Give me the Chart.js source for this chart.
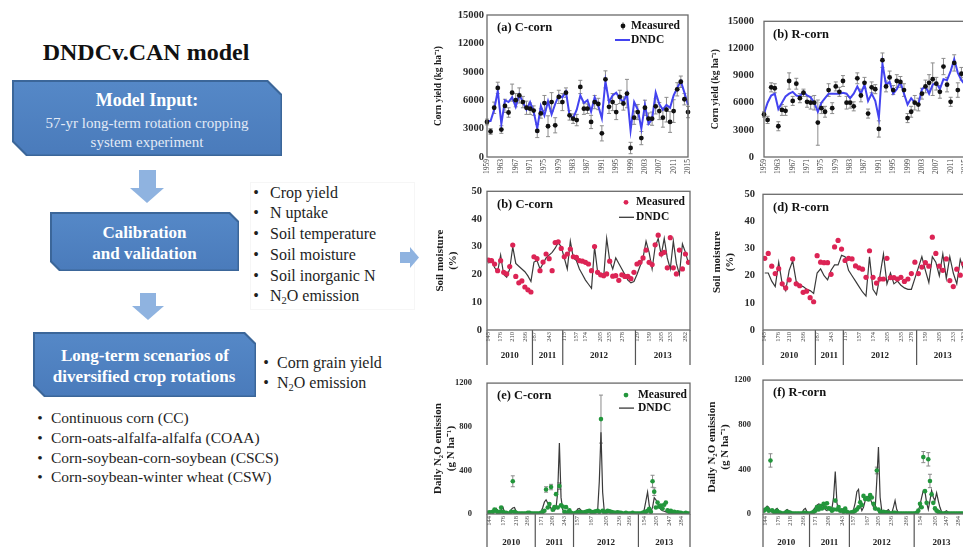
<!DOCTYPE html>
<html><head><meta charset="utf-8">
<script src="https://cdn.jsdelivr.net/npm/chart.js@4.4.1/dist/chart.umd.min.js"></script>
<style>
html,body{margin:0;padding:0;background:#fff;}
body{width:963px;height:547px;overflow:hidden;position:relative;font-family:'Liberation Serif','Times New Roman',serif;color:#1a1a1a;}
.abs{position:absolute;white-space:nowrap;line-height:1;font-family:'Liberation Serif','Times New Roman',serif;}
.c{transform:translate(-50%,-50%);}
.l{transform:translateY(-50%);}
.bx{position:absolute;background:#3b6699;clip-path:polygon(0 0,calc(100% - var(--k)) 0,100% var(--k),100% 100%,var(--k) 100%,0 calc(100% - var(--k)));}
.bx>div{position:absolute;left:1.5px;top:1.5px;right:1.5px;bottom:1.5px;background:linear-gradient(#5588c7,#4a7bbb);clip-path:polygon(0 0,calc(100% - var(--k)) 0,100% var(--k),100% 100%,var(--k) 100%,0 calc(100% - var(--k)));}
.bw{color:#fff;font-weight:bold;font-size:17px;}
.sub{color:#e2eaf6;font-size:15px;}
.it{font-size:16px;color:#1e1e1e;}
.it2{font-size:15.5px;color:#1e1e1e;}
.arr{position:absolute;background:#8fb3e0;}
canvas{position:absolute;}
sub{font-size:0.65em;vertical-align:-0.25em;line-height:0;}
</style></head>
<body>
<!-- flow chart -->
<div class="abs c" style="left:146px;top:52px;font-size:24px;font-weight:bold;color:#111">DNDCv.CAN model</div>

<div class="bx" style="left:12px;top:80px;width:270px;height:76px;--k:14px"><div></div></div>
<div class="abs c bw" style="left:147px;top:100px;font-size:18px">Model Input:</div>
<div class="abs c sub" style="left:147px;top:123px">57-yr long-term rotation cropping</div>
<div class="abs c sub" style="left:147px;top:142px">system experiment</div>

<div class="arr" style="left:139px;top:170px;width:17px;height:19px"></div>
<div class="arr" style="left:130px;top:188px;width:34px;height:15px;clip-path:polygon(0 0,100% 0,50% 100%)"></div>

<div class="abs" style="left:250px;top:182px;width:163px;height:126px;border:1px solid #f6f6f6"></div>
<div class="bx" style="left:50px;top:212px;width:189px;height:59px;--k:9px"><div></div></div>
<div class="abs c bw" style="left:144.5px;top:232px">Calibration</div>
<div class="abs c bw" style="left:144.5px;top:253px">and validation</div>

<div class="abs c it" style="left:256px;top:193px">•</div><div class="abs l it" style="left:270px;top:193px">Crop yield</div>
<div class="abs c it" style="left:256px;top:213px">•</div><div class="abs l it" style="left:270px;top:213px">N uptake</div>
<div class="abs c it" style="left:256px;top:234px">•</div><div class="abs l it" style="left:270px;top:234px">Soil temperature</div>
<div class="abs c it" style="left:256px;top:255px">•</div><div class="abs l it" style="left:270px;top:255px">Soil moisture</div>
<div class="abs c it" style="left:256px;top:276px">•</div><div class="abs l it" style="left:270px;top:276px">Soil inorganic N</div>
<div class="abs c it" style="left:256px;top:296px">•</div><div class="abs l it" style="left:270px;top:296px">N<sub>2</sub>O emission</div>

<div class="arr" style="left:400px;top:252px;width:11px;height:11px"></div>
<div class="arr" style="left:410px;top:247px;width:9px;height:21px;clip-path:polygon(0 0,100% 50%,0 100%)"></div>

<div class="arr" style="left:140px;top:293px;width:16px;height:14px"></div>
<div class="arr" style="left:132px;top:306px;width:32px;height:14px;clip-path:polygon(0 0,100% 0,50% 100%)"></div>

<div class="bx" style="left:33px;top:332px;width:223px;height:65px;--k:11px"><div></div></div>
<div class="abs c bw" style="left:145px;top:355px">Long-term scenarios of</div>
<div class="abs c bw" style="left:144px;top:376px">diversified crop rotations</div>

<div class="abs c it" style="left:266px;top:363px">•</div><div class="abs l it" style="left:277px;top:363px">Corn grain yield</div>
<div class="abs c it" style="left:266px;top:383px">•</div><div class="abs l it" style="left:277px;top:383px">N<sub>2</sub>O emission</div>

<div class="abs c it2" style="left:40px;top:418px">•</div><div class="abs l it2" style="left:51px;top:418px">Continuous corn (CC)</div>
<div class="abs c it2" style="left:40px;top:438px">•</div><div class="abs l it2" style="left:51px;top:438px">Corn-oats-alfalfa-alfalfa (COAA)</div>
<div class="abs c it2" style="left:40px;top:458px">•</div><div class="abs l it2" style="left:51px;top:458px">Corn-soybean-corn-soybean (CSCS)</div>
<div class="abs c it2" style="left:40px;top:477px">•</div><div class="abs l it2" style="left:51px;top:477px">Corn-soybean-winter wheat (CSW)</div>

<script>
// ---------------- DATA ----------------
// Corn yield (kg/ha), 1959-2015
const yieldYears = Array.from({length: 57}, (_, i) => 1959 + i);
const yieldTickYears = [1959,1963,1967,1971,1975,1979,1983,1987,1991,1995,1999,2003,2007,2011,2015];
const measYieldC = [3700,2700,5200,7300,2900,5400,4700,6800,6000,6500,
  5800,5200,5100,4900,2750,4600,5700,3250,5800,3350,
  6350,5800,6800,4400,4050,3900,7400,5100,5100,3700,
  5800,5600,2500,8200,5300,5800,4750,6350,5650,6700,
  950,4150,4750,2000,5200,4050,4050,5350,4850,4150,
  5000,3700,4850,7150,7950,6100,4750];
const errYieldC = [300,300,600,600,400,700,500,900,700,800,
  600,700,600,500,700,500,800,1100,1000,800,
  700,900,500,500,500,600,700,600,500,700,
  700,600,800,900,700,900,800,700,700,1500,
  600,700,800,700,800,600,700,800,900,1000,
  1300,1100,1200,700,600,600,600];
const dndcYieldC = [3800,3800,5000,7000,3500,6000,5800,6300,5300,6600,
  5800,5000,5800,4800,3000,5400,4400,5900,4500,5600,
  6500,6300,6900,4400,4100,5000,6500,5700,6000,4800,
  6300,5400,4100,8000,5800,6500,6800,6200,5800,6700,
  2800,5800,5000,3000,5500,3500,4000,6800,5600,5000,
  5500,5200,6500,7300,8000,6800,5500];
const measYieldR = [4700,4100,7700,7600,3400,5200,5100,8400,6200,8100,
  6500,7100,6100,6000,6000,3800,5400,5000,7400,5400,
  7800,7200,8400,6000,6000,5600,8700,6800,8200,4800,
  7700,7500,3100,10700,7800,8800,7400,8400,8300,7400,
  4300,5000,6000,5800,7000,7800,8200,8600,8100,7200,
  10000,8000,6100,10400,7400,9200,8800];
const errYieldR = [300,400,500,500,500,600,500,900,500,600,
  500,400,600,700,800,2500,600,600,700,600,
  500,500,600,700,600,500,600,700,600,500,
  600,500,900,800,600,700,500,700,600,700,
  500,600,800,700,600,700,900,1800,700,700,
  900,800,500,900,800,700,700];
const dndcYieldR = [4800,6000,6800,7000,5300,6000,6700,7000,7200,6800,
  6700,7200,6800,6600,6000,5000,6000,6500,7000,7000,
  7000,7000,7100,7000,6500,7000,7800,7000,8000,6200,
  7000,6200,4300,10300,8000,8300,7000,7500,8300,7000,
  5800,6500,6000,5800,7500,7800,7000,8000,8200,7500,
  8600,8500,9500,10800,9300,8500,8000];

// Soil moisture (%), sampling sequence 2010-2013
const seasonYears = ['2010','2011','2012','2013'];
const smCountC = [15,10,24,18];
const measSmC = [25.2,25,23.8,21.4,25,20.8,20.2,22.9,30.6,19.3,17,17.7,15.5,14.5,13.7,
  26.4,25.7,21.4,24.5,27.4,25.7,21.4,31.5,31.8,29.4,
  26.4,27.4,29.2,26.4,26.2,25,24.8,24.4,23.8,21.4,30.1,20.8,19.9,19.6,20.2,24.8,19.4,19.6,17.9,19.9,19.3,19.3,18.5,20.8,
  23.8,24.4,26,28.8,24.4,23.6,30.7,34.2,27.4,28,22.4,33.3,22.4,20.2,28.8,22,27.4,24.4];
const dndcSmC = [24,25.5,22.5,21,27,20,19,22,30,24,23,22,21,19.5,17.5,
  24.5,25,22,24,26,27,28,29.5,31.5,30,
  26,22,32,26,25,22,20,18,16.5,15,30,21,20,19,33,25,22,26,24,22,20,18,17,17.5,
  20,23,26,32,28,22,30,33,27,33,26,22,32,24,20,31,28,24];
const smTickPosC = [0,4,8,12,15,20,25,29,32,37,40,44,49,53,57,60,65];
const smTickLblC = ['145','176','210','266','187','243','115','157','174','205','235','278','129','159','205','233','282'];

const smCountR = [15,8,21,15];
const measSmR = [26.4,28.2,23.5,20.8,22.6,17,15.5,18.5,26.2,17,16.3,13.9,14.3,11.9,10.4,
  27.4,25,24.8,24.8,20.5,30.6,33,29.8,
  25.6,26.4,26.2,23.6,22.9,22.4,19.4,29.2,19.4,17.3,18.8,18.8,26.4,19.3,19.3,18.8,19.4,17.9,18.8,20.8,25,
  20.8,23.2,24.8,23.5,34.2,28.2,23.5,22,26.2,18.2,16,22.4,20.2,24.4,22];
const dndcSmR = [21,21,18,16,25,17,14.5,22,25.5,18,16.5,16,15,14.5,13.5,
  21,22.5,20,18.5,22,24,24,27.5,
  27,22,20,18,16,14,12.5,27,15,13,20,28,17,21,17,18,16.5,15.5,15,15,19,
  23,27,22,17.5,27,25,20,28,19,27,21,17,26,22,20];
const smTickPosR = [0,4,7,11,15,19,23,27,31,35,39,42,46,50,54,57];
const smTickLblR = ['145','176','210','266','187','243','115','157','174','205','235','278','159','205','233','282'];

// Daily N2O emission (g N/ha), 2010-2013 seasons
const nCountC = [29,23,39,31];
const dndcN2oC = [5,20,30,15,25,50,20,10,40,65,20,5,5,10,40,55,60,25,5,3,2,2,2,2,5,15,10,3,2,
  2,3,5,20,60,110,130,100,80,50,35,30,60,200,650,150,40,20,10,8,5,5,5,
  5,20,45,50,35,20,15,20,25,30,30,20,15,10,30,300,750,200,20,10,10,15,30,25,15,10,8,5,5,5,5,5,3,3,3,3,3,3,5,
  5,5,10,40,120,200,80,20,60,150,130,100,60,40,30,25,20,15,12,10,8,8,5,5,5,5,5,5,5,5,5];
const measN2oC = [10,15,null,20,40,30,15,20,60,20,10,10,5,5,20,300,20,10,5,5,5,5,5,5,10,10,5,5,5,
  5,5,5,10,20,30,225,60,91,247,40,63,182,60,256,80,68,20,63,15,34,10,5,
  5,10,15,20,15,10,15,20,25,30,20,15,20,25,30,20,870,30,15,20,30,25,20,15,10,10,15,10,10,5,5,10,5,5,5,10,5,5,5,
  5,5,10,15,20,30,48,20,300,205,60,105,68,77,50,85,105,34,20,30,15,20,10,15,10,10,5,5,10,5,5];
const errIdxN2oC = [15,35,38,43,68,99,100];
const errValN2oC = [50,25,25,30,220,55,35];
const nTickPosC = [1,9,17,24,32,39,46,54,62,71,79,85,94,101,109,116];
const nTickLbl = ['144','176','218','266','171','208','243','157','167','205','236','266','154','205','247','284'];

const nCountR = [28,24,39,33];
const dndcN2oR = [30,50,70,60,30,15,20,40,50,20,5,5,10,30,40,30,10,5,3,3,3,3,3,10,40,50,20,5,
  5,20,40,60,80,90,85,80,70,40,30,60,30,50,150,380,100,30,20,30,50,30,10,5,
  10,20,40,100,200,220,80,30,60,120,150,160,140,100,60,40,300,600,150,30,15,20,30,40,15,10,60,120,40,10,5,5,5,5,5,5,5,5,5,
  5,10,30,80,150,210,200,100,40,120,210,150,120,190,120,60,20,10,20,30,15,10,5,5,5,5,5,5,5,5,5,5,5];
const measN2oR = [30,40,48,30,480,34,20,15,28,15,10,5,5,10,20,15,10,5,5,5,5,5,5,5,10,10,5,5,
  5,10,20,30,63,40,71,50,91,60,97,50,48,30,40,120,40,63,30,34,20,48,20,10,
  10,15,20,30,40,60,105,80,162,134,142,130,170,148,91,50,390,40,20,15,20,15,10,10,5,5,10,10,5,5,5,5,5,5,5,5,5,5,5,
  5,10,30,91,60,510,205,100,490,296,176,100,50,30,20,10,5,5,5,5,5,5,5,5,5,5,5,5,5,5,5,5,5];
const errIdxN2oR = [4,68,96,99,100];
const errValN2oR = [60,30,50,60,60];
const nTickPosR = [1,9,16,24,31,39,47,54,62,69,77,86,94,103,110,117];

// ---------------- RENDERING ----------------
const F = '"Liberation Serif","Times New Roman",serif';
Chart.defaults.font.family = F;
Chart.defaults.color = '#222';

const deco = {
  id: 'deco',
  beforeDatasetsDraw(chart, args, o) {
    const ctx = chart.ctx, ys = chart.scales.y;
    chart.data.datasets.forEach((ds, di) => {
      if (!ds.errs) return;
      const meta = chart.getDatasetMeta(di);
      ctx.save();
      ctx.strokeStyle = ds.errColor || '#888';
      ctx.lineWidth = 1;
      ds.errs.forEach((e, i) => {
        const raw = ds.data[i];
        const v = (raw !== null && typeof raw === 'object') ? raw.y : raw;
        if (!e || v === null || v === undefined) return;
        const px = meta.data[i].x, t = ys.getPixelForValue(v + e), b = ys.getPixelForValue(Math.max(0, v - e));
        ctx.beginPath();
        ctx.moveTo(px, t); ctx.lineTo(px, b);
        ctx.moveTo(px - 2, t); ctx.lineTo(px + 2, t);
        ctx.moveTo(px - 2, b); ctx.lineTo(px + 2, b);
        ctx.stroke();
      });
      ctx.restore();
    });
  },
  afterDraw(chart, args, o) {
    if (!o || !o.title) return;
    const ctx = chart.ctx, ca = chart.chartArea;
    ctx.save();
    if (o.years) {
      const xs = chart.scales.x;
      const bounds = [xs.min];
      let acc = xs.min;
      o.years.counts.forEach(c => { acc += c; bounds.push(acc); });
      ctx.strokeStyle = '#555'; ctx.lineWidth = 1.2;
      const pxs = bounds.map(v => xs.getPixelForValue(v));
      pxs.forEach(px => { ctx.beginPath(); ctx.moveTo(px, ca.bottom); ctx.lineTo(px, ca.bottom + o.years.len); ctx.stroke(); });
      ctx.fillStyle = '#222'; ctx.font = 'bold 9px ' + F; ctx.textAlign = 'center'; ctx.textBaseline = 'middle';
      for (let k = 0; k < o.years.labels.length; k++) {
        ctx.fillText(o.years.labels[k], (pxs[k] + pxs[k + 1]) / 2, ca.bottom + o.years.ty);
      }
    }
    ctx.strokeStyle = '#6a6a6a'; ctx.lineWidth = 1.3;
    ctx.strokeRect(ca.left, ca.top, ca.right - ca.left, ca.bottom - ca.top);
    ctx.fillStyle = '#111'; ctx.font = 'bold 12.5px ' + F; ctx.textAlign = 'left'; ctx.textBaseline = 'middle';
    ctx.fillText(o.title, ca.left + o.tx, ca.top + 13);
    if (o.legend) {
      const lg = o.legend;
      ctx.font = 'bold 11.5px ' + F;
      lg.items.forEach((it, k) => {
        const y = ca.top + lg.ys[k];
        if (it.type === 'dot') {
          if (it.err) {
            ctx.strokeStyle = '#888'; ctx.lineWidth = 1;
            ctx.beginPath(); ctx.moveTo(ca.right - lg.mx, y - 4); ctx.lineTo(ca.right - lg.mx, y + 4); ctx.stroke();
          }
          ctx.fillStyle = it.color;
          ctx.beginPath(); ctx.arc(ca.right - lg.mx, y, 2.4, 0, Math.PI * 2); ctx.fill();
        } else {
          ctx.strokeStyle = it.color; ctx.lineWidth = it.w;
          ctx.beginPath(); ctx.moveTo(ca.right - lg.l0, y); ctx.lineTo(ca.right - lg.l1, y); ctx.stroke();
        }
        ctx.fillStyle = '#111';
        ctx.fillText(it.text, ca.right - lg.tx, y);
      });
    }
    ctx.restore();
  }
};
Chart.register(deco);

function mkCanvas(left, top, w, h) {
  const c = document.createElement('canvas');
  c.width = w; c.height = h;
  c.style.left = left + 'px'; c.style.top = top + 'px';
  c.style.width = w + 'px'; c.style.height = h + 'px';
  document.body.appendChild(c);
  return c;
}

function yAxis(max, step, title, p) {
  return {
    type: 'linear', min: 0, max: max,
    grid: { display: false, drawTicks: false }, border: { display: false },
    ticks: { stepSize: step, padding: p.tpad, color: '#2a2a2a', font: { size: p.tsize, weight: 'bold' },
             callback(v) { return String(v); } },
    title: { display: true, text: title, color: '#1a1a1a',
             font: { size: p.hsize, weight: 'bold', lineHeight: p.hlh }, padding: { top: p.hpad, bottom: 0 } },
    afterFit(s) { s.width = 60; }
  };
}

function baseOpts(pad, scales, decoOpts) {
  return {
    responsive: false, animation: false, devicePixelRatio: 1, events: [],
    layout: { padding: pad },
    plugins: { legend: { display: false }, tooltip: { enabled: false }, deco: decoOpts },
    scales: scales
  };
}

// ---- yield charts ----
function yieldChart(left, meas, err, dndc, title, showLegend, p) {
  const cv = mkCanvas(left, 5, 272, 176);
  new Chart(cv, {
    type: 'line',
    data: {
      labels: yieldYears,
      datasets: [
        { data: meas, errs: err, errColor: '#8c8c8c', showLine: false, pointRadius: 2.4,
          pointBackgroundColor: '#111', pointBorderColor: '#111', pointBorderWidth: 0 },
        { data: dndc, borderColor: '#4343f0', borderWidth: 2, pointRadius: 0, tension: 0, fill: false }
      ]
    },
    options: baseOpts({ top: 10, right: 6, bottom: 2, left: 0 }, {
      x: {
        type: 'category', grid: { display: false, drawTicks: false }, border: { display: false },
        ticks: { autoSkip: false, minRotation: 90, maxRotation: 90, padding: 2, color: '#444',
                 font: { size: 7.5 },
                 callback(v, i) { const yr = yieldYears[i]; return yieldTickYears.includes(yr) ? String(yr) : ''; } },
        afterFit(s) { s.height = 22; }
      },
      y: yAxis(15000, 3000, 'Corn yield (kg ha⁻¹)', p)
    }, {
      title: title, tx: p.tx,
      legend: showLegend ? { mx: 65, tx: 57, l0: 73, l1: 58, ys: [11, 25],
        items: [{ type: 'dot', color: '#111', err: true, text: 'Measured' },
                { type: 'line', color: '#4343f0', w: 2, text: 'DNDC' }] } : null
    })
  });
}
yieldChart(427, measYieldC, errYieldC, dndcYieldC, '(a) C-corn', true,
  { tpad: 3, tsize: 10.5, hsize: 9.5, hlh: 1.2, hpad: 6.3, tx: 10 });
yieldChart(704, measYieldR, errYieldR, dndcYieldR, '(b) R-corn', false,
  { tpad: 10, tsize: 10.5, hsize: 9.5, hlh: 1.2, hpad: 6.3, tx: 9 });

// ---- sequence (soil moisture / N2O) charts ----
function seqChart(cfg) {
  const cv = mkCanvas(cfg.left, cfg.top, cfg.w, cfg.h);
  const n = cfg.meas.length;
  const errs = new Array(n).fill(0);
  (cfg.errIdx || []).forEach((ix, k) => { errs[ix] = cfg.errVal[k]; });
  new Chart(cv, {
    type: 'scatter',
    data: {
      datasets: [
        { data: cfg.meas.map((v, i) => ({ x: i, y: v })), errs: cfg.errIdx ? errs : null, errColor: '#8a8a8a',
          showLine: false, pointRadius: cfg.r, pointBackgroundColor: cfg.color, pointBorderColor: cfg.color, pointBorderWidth: 0 },
        { data: cfg.dndc.map((v, i) => ({ x: i, y: v })), showLine: true, borderColor: '#3a3a3a', borderWidth: 1.2,
          pointRadius: 0, tension: 0, fill: false }
      ]
    },
    options: baseOpts({ top: 10, right: 6, bottom: cfg.pb, left: 0 }, {
      x: {
        type: 'linear', min: -0.5, max: n - 0.5,
        grid: { display: false, drawTicks: false }, border: { display: false },
        afterBuildTicks(s) { s.ticks = cfg.tickPos.map(v => ({ value: v })); },
        ticks: { autoSkip: false, minRotation: 90, maxRotation: 90, padding: 2, color: '#444',
                 font: { size: 6.5 }, callback(v, i) { return cfg.tickLbl[i]; } },
        afterFit(s) { s.height = cfg.xh; }
      },
      y: yAxis(cfg.max, cfg.step, cfg.ytitle, cfg.p)
    }, {
      title: cfg.title, tx: cfg.p.tx,
      years: { counts: cfg.counts, labels: seasonYears, len: cfg.ylen, ty: cfg.yty },
      legend: cfg.legend ? { mx: 64, tx: cfg.legend.tx, l0: 71, l1: 56, ys: cfg.legend.ys,
        items: [{ type: 'dot', color: cfg.color, err: false, text: 'Measured' },
                { type: 'line', color: '#3a3a3a', w: 1.3, text: 'DNDC' }] } : null
    })
  });
}

seqChart({ left: 427, top: 180, w: 269, h: 188, pb: 22, xh: 16, ylen: 35, yty: 26,
  meas: measSmC, dndc: dndcSmC, counts: smCountC, tickPos: smTickPosC, tickLbl: smTickLblC,
  color: '#dc2455', r: 2.6, max: 50, step: 10, ytitle: ['Soil moisture', '(%)'], title: '(b) C-corn',
  legend: { tx: 54, ys: [11, 26] },
  p: { tpad: 5, tsize: 10.5, hsize: 11, hlh: 1.15, hpad: 6.7, tx: 10 } });
seqChart({ left: 703, top: 180, w: 272, h: 188, pb: 22, xh: 16, ylen: 35, yty: 26,
  meas: measSmR, dndc: dndcSmR, counts: smCountR, tickPos: smTickPosR, tickLbl: smTickLblR,
  color: '#dc2455', r: 2.6, max: 50, step: 10, ytitle: ['Soil moisture', '(%)'], title: '(d) R-corn',
  legend: null,
  p: { tpad: 8, tsize: 10.5, hsize: 11, hlh: 1.15, hpad: 7.7, tx: 10 } });
seqChart({ left: 427, top: 363, w: 269, h: 191, pb: 22, xh: 18, ylen: 40, yty: 29,
  meas: measN2oC, dndc: dndcN2oC, counts: nCountC, tickPos: nTickPosC, tickLbl: nTickLbl,
  errIdx: errIdxN2oC, errVal: errValN2oC,
  color: '#23963c', r: 2.3, max: 1200, step: 400, ytitle: ['Daily N₂O emission', '(g N ha⁻¹)'], title: '(e) C-corn',
  legend: { tx: 52, ys: [12, 25] },
  p: { tpad: 15, tsize: 8.5, hsize: 11, hlh: 1.15, hpad: 4.7, tx: 10 } });
seqChart({ left: 703, top: 363, w: 272, h: 191, pb: 22, xh: 18, ylen: 40, yty: 29,
  meas: measN2oR, dndc: dndcN2oR, counts: nCountR, tickPos: nTickPosR, tickLbl: nTickLbl,
  errIdx: errIdxN2oR, errVal: errValN2oR,
  color: '#23963c', r: 2.3, max: 1200, step: 400, ytitle: ['Daily N₂O emission', '(g N ha⁻¹)'], title: '(f) R-corn',
  legend: null,
  p: { tpad: 12, tsize: 8.5, hsize: 11, hlh: 1.15, hpad: 2.7, tx: 10 } });
</script>
</body></html>
